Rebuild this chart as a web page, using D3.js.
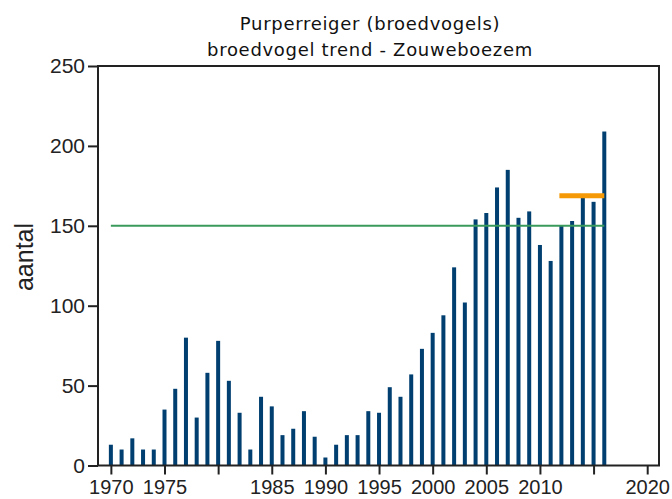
<!DOCTYPE html>
<html>
<head>
<meta charset="utf-8">
<script src="https://cdn.jsdelivr.net/npm/d3@7"></script>
<style>
  html, body { margin: 0; padding: 0; background: #fff; }
  svg { display: block; }
</style>
</head>
<body>
<svg id="chart" width="672" height="499"></svg>
<script>
const years = d3.range(1970, 2017);
const counts = [13, 10, 17, 10, 10, 35, 48, 80, 30, 58,
                78, 53, 33, 10, 43, 37, 19, 23, 34, 18,
                5, 13, 19, 19, 34, 33, 49, 43, 57, 73,
                83, 94, 124, 102, 154, 158, 174, 185, 155, 159,
                138, 128, 150, 153, 168, 165, 209];
const trendLines = [
  { from: 1970, to: 2016, value: 150, kind: "long" },
  { from: 2012, to: 2016, value: 168.8, kind: "recent" }
];
const xTicks = [1970, 1975, 1980, 1985, 1990, 1995, 2000, 2005, 2010, 2015, 2020];
const xTickLabels = ["1970", "1975", "", "1985", "1990", "1995", "2000", "2005", "2010", "", "2020"];
const yTicks = [0, 50, 100, 150, 200, 250];
const titleLines = ["Purperreiger (broedvogels)", "broedvogel trend - Zouweboezem"];
const yLabel = "aantal";

const svg = d3.select("#chart");
const pLeft = 98, pRight = 659, pTop = 66, pBottom = 465.5;
const x = d3.scaleLinear().domain([1968.8, 2021.1]).range([pLeft, pRight]);
const y = d3.scaleLinear().domain([0, 250]).range([pBottom, pTop]);

// Bars
svg.append("g").selectAll("rect").data(years).join("rect")
  .attr("x", (d) => x(d) - 2)
  .attr("width", 4)
  .attr("y", (d, i) => y(counts[i]))
  .attr("height", (d, i) => pBottom - y(counts[i]))
  .attr("fill", "#003f70");

// Trend lines
svg.append("g").selectAll("line").data(trendLines).join("line")
  .attr("x1", (d) => x(d.from) - (d.kind === "recent" ? 2 : 0))
  .attr("x2", (d) => x(d.to))
  .attr("y1", (d) => y(d.value))
  .attr("y2", (d) => y(d.value))
  .attr("stroke", (d) => d.kind === "long" ? "#3a9a5c" : "#f59a06")
  .attr("stroke-width", (d) => d.kind === "long" ? 2 : 5);

// Frame
svg.append("rect")
  .attr("x", pLeft).attr("y", pTop)
  .attr("width", pRight - pLeft).attr("height", pBottom - pTop)
  .attr("fill", "none").attr("stroke", "#222").attr("stroke-width", 2);

// Y axis
const yAxis = d3.axisLeft(y).tickValues(yTicks).tickSize(10).tickPadding(3);
const gy = svg.append("g").attr("transform", `translate(${pLeft},0)`).call(yAxis);
gy.select(".domain").remove();
gy.selectAll(".tick line").attr("stroke", "#222").attr("stroke-width", 2);
gy.selectAll(".tick text").attr("font-family", "'Liberation Sans', Arial, sans-serif")
  .attr("font-size", 21).attr("fill", "#222");

// X axis
const xAxis = d3.axisBottom(x).tickValues(xTicks).tickSize(9).tickPadding(5)
  .tickFormat((d, i) => xTickLabels[i]);
const gx = svg.append("g").attr("transform", `translate(0,${pBottom})`).call(xAxis);
gx.select(".domain").remove();
gx.selectAll(".tick line").attr("stroke", "#222").attr("stroke-width", 2);
gx.selectAll(".tick text").attr("font-family", "'Liberation Sans', Arial, sans-serif")
  .attr("font-size", 20).attr("fill", "#222");

// Titles
svg.append("g").selectAll("text").data(titleLines).join("text")
  .attr("x", 370)
  .attr("y", (d, i) => 30 + i * 26)
  .attr("text-anchor", "middle")
  .attr("font-family", "'DejaVu Sans', Verdana, sans-serif")
  .attr("font-size", 18)
  .attr("letter-spacing", 0.7)
  .attr("fill", "#111")
  .text((d) => d);

// Y label
svg.append("text")
  .attr("transform", "translate(33,257) rotate(-90)")
  .attr("text-anchor", "middle")
  .attr("font-family", "'Liberation Sans', Arial, sans-serif")
  .attr("font-size", 25)
  .attr("fill", "#222")
  .text(yLabel);
</script>
</body>
</html>
